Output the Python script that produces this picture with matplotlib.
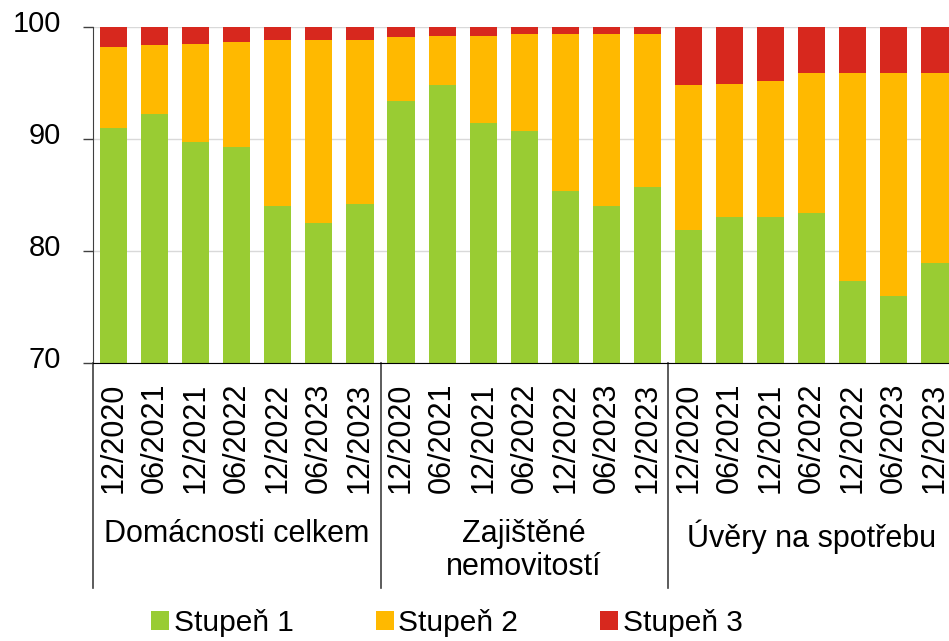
import matplotlib
matplotlib.use("Agg")
import matplotlib.pyplot as plt
import matplotlib.transforms as mtransforms
from matplotlib.patches import Patch
import numpy as np

plt.rcParams['font.family'] = ['Liberation Sans', 'DejaVu Sans']

dates = ["12/2020", "06/2021", "12/2021", "06/2022", "12/2022", "06/2023", "12/2023"]
groups = ["Domácnosti celkem", "Zajištěné\nnemovitostí", "Úvěry na spotřebu"]

stage1 = [91.0, 92.2, 89.7, 89.3, 84.0, 82.5, 84.2,
          93.4, 94.8, 91.4, 90.7, 85.4, 84.0, 85.7,
          81.9, 83.0, 83.0, 83.4, 77.3, 76.0, 78.9]
stage2 = [7.2, 6.2, 8.8, 9.4, 14.8, 16.3, 14.6,
          5.7, 4.4, 7.8, 8.7, 14.0, 15.4, 13.7,
          12.9, 11.9, 12.2, 12.5, 18.6, 19.9, 17.0]
stage3 = [1.8, 1.6, 1.5, 1.3, 1.2, 1.2, 1.2,
          0.9, 0.8, 0.8, 0.6, 0.6, 0.6, 0.6,
          5.2, 5.1, 4.8, 4.1, 4.1, 4.1, 4.1]
series_names = ["Stupeň 1", "Stupeň 2", "Stupeň 3"]
colors = ["#99CC33", "#FFB900", "#D7281E"]

W, H = 949, 641
fig = plt.figure(figsize=(W / 100, H / 100), dpi=100)
left, right, top, bottom = 93, 955.5, 27, 363
ax = fig.add_axes([left / W, 1 - bottom / H, (right - left) / W, (bottom - top) / H])

n = len(stage1)
x = np.arange(n)
s1 = np.array(stage1)
s2 = np.array(stage2)
s3 = np.array(stage3)
bw = 0.66
ax.bar(x, s1, width=bw, color=colors[0], zorder=2)
ax.bar(x, s2, bottom=s1, width=bw, color=colors[1], zorder=2)
ax.bar(x, s3, bottom=s1 + s2, width=bw, color=colors[2], zorder=2)

ax.set_xlim(-0.5, n - 0.5)
ax.set_ylim(70, 100)
ax.set_yticks([70, 80, 90, 100])
ax.yaxis.grid(True, color="#D9D9D9", linewidth=1, zorder=0)
ax.set_axisbelow(True)
ax.tick_params(axis="y", labelsize=21, length=7, width=1, color="#404040", pad=16)
offset = mtransforms.ScaledTranslation(0, 6 / 100, fig.dpi_scale_trans)
for lab in ax.get_yticklabels():
    lab.set_transform(lab.get_transform() + offset)
ax.set_xticks(x)
ax.set_xticklabels(dates * len(groups), rotation=90, fontsize=22)
ax.tick_params(axis="x", length=0, pad=14)
for s in ["top", "right"]:
    ax.spines[s].set_visible(False)
ax.spines["left"].set_color("#404040")
ax.spines["bottom"].set_color("black")

trans = mtransforms.blended_transform_factory(ax.transData, fig.transFigure)
per = len(dates)
for gi, g in enumerate(groups):
    cx = gi * per + (per - 1) / 2
    ax.text(cx, 1 - 519 / H, g, transform=trans, ha="center", va="top",
            fontsize=22, linespacing=1.15, clip_on=False)
for sep in range(len(groups)):
    xs = sep * per - 0.5
    ax.plot([xs, xs], [1 - 363 / H, 1 - 588 / H], transform=trans, color="#404040",
            linewidth=1.2, clip_on=False)

handles = [Patch(facecolor=c, edgecolor="none") for c in colors]
fig.legend(handles, series_names, loc="center", bbox_to_anchor=(447 / W, 1 - 623 / H),
           ncol=3, frameon=False, fontsize=21.5, handlelength=0.6, handleheight=0.6,
           handletextpad=0.15, columnspacing=2.75)

fig.savefig("out.png", dpi=100)
